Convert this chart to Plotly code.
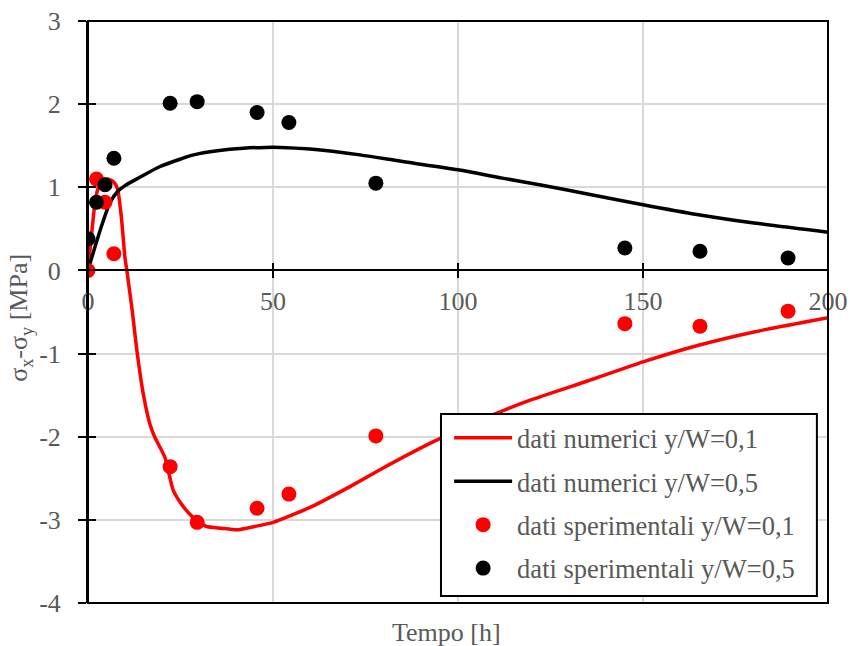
import plotly.graph_objects as go

# Numerical results (time in hours, stress difference in MPa)
t_num_01 = [0, 1, 2, 3, 4, 5, 6, 7, 8, 9, 10, 10.5, 12, 13.2, 15, 16.8, 18, 20.8,
            23, 25.4, 28.4, 32, 36, 40.2, 45, 50, 60, 70.8, 80, 92.4, 105, 119.5,
            135, 150, 165, 180, 200]
s_num_01 = [0, 0.45, 0.85, 1.02, 1.08, 1.10, 1.09, 1.06, 0.98, 0.65, 0.15, 0.0,
            -0.5, -0.96, -1.5, -1.86, -2.0, -2.25, -2.64, -2.82, -2.97, -3.08,
            -3.1, -3.12, -3.08, -3.03, -2.85, -2.6, -2.37, -2.08, -1.82, -1.56,
            -1.33, -1.1, -0.9, -0.74, -0.57]

t_num_05 = [0, 2, 4, 6, 8, 10, 14, 19.5, 25, 28.5, 35, 42, 48, 52, 60, 73.5, 85,
            100, 112, 122, 135, 150, 165, 180, 200]
s_num_05 = [0, 0.3, 0.58, 0.82, 0.95, 1.02, 1.12, 1.25, 1.34, 1.39, 1.44, 1.47,
            1.48, 1.48, 1.46, 1.39, 1.31, 1.21, 1.11, 1.03, 0.92, 0.79, 0.67,
            0.57, 0.46]

# Experimental measurements
t_exp = [0, 2.3, 4.6, 7, 22.2, 29.5, 45.7, 54.3, 77.8, 145.1, 165.4, 189.2]
s_exp_01 = [0, 1.10, 0.82, 0.20, -2.36, -3.03, -2.86, -2.69, -1.99, -0.64, -0.67, -0.49]
s_exp_05 = [0.38, 0.82, 1.03, 1.35, 2.01, 2.03, 1.90, 1.78, 1.05, 0.27, 0.23, 0.15]

x_ticks = [0, 50, 100, 150, 200]
y_ticks = [-4, -3, -2, -1, 0, 1, 2, 3]
y_tick_text = ["-4", "-3", "-2", "-1", "0", "1", "2", "3"]

FONT = "serif"
GREY = "#595959"
GRID = "#d9d9d9"
Y_RANGE = [-4, 3]
X_RANGE = [0, 200]
x_axis_pos = (0 - Y_RANGE[0]) / (Y_RANGE[1] - Y_RANGE[0])

fig = go.Figure()

fig.add_trace(go.Scatter(x=t_num_01, y=s_num_01, mode="lines",
                         line=dict(color="#ff0000", width=3.5, shape="spline",
                                   smoothing=0.5),
                         name="dati numerici y/W=0,1", legendgroup="a"))
fig.add_trace(go.Scatter(x=t_num_05, y=s_num_05, mode="lines",
                         line=dict(color="#000000", width=3.5, shape="spline",
                                   smoothing=0.8),
                         name="dati numerici y/W=0,5", legendgroup="b"))
fig.add_trace(go.Scatter(x=t_exp, y=s_exp_01, mode="markers",
                         marker=dict(color="#ff0000", size=15),
                         name="dati sperimentali y/W=0,1", legendgroup="c"))
fig.add_trace(go.Scatter(x=t_exp, y=s_exp_05, mode="markers",
                         marker=dict(color="#000000", size=15),
                         name="dati sperimentali y/W=0,5", legendgroup="d"))

# invisible trace carrying the overlay axes (inner half of crossing ticks)
fig.add_trace(go.Scatter(x=[None], y=[None], xaxis="x2", yaxis="y2",
                         showlegend=False, hoverinfo="skip"))

# legend frame in data units
LEG_X0, LEG_X1 = 95.4, 197.0
LEG_Y0, LEG_Y1 = -3.915, -1.727

fig.update_layout(
    width=850, height=646,
    margin=dict(l=88, r=22, t=21, b=43, autoexpand=False),
    paper_bgcolor="white", plot_bgcolor="white",
    font=dict(family=FONT, size=26, color=GREY),
    showlegend=True,
    legend=dict(
        x=(LEG_X0 + 2.2) / 200, y=(LEG_Y1 + 4) / 7, xanchor="left", yanchor="top",
        bgcolor="rgba(0,0,0,0)", borderwidth=0,
        font=dict(family=FONT, size=26.5, color=GREY),
        traceorder="grouped", tracegroupgap=6, itemwidth=58,
    ),
    xaxis=dict(
        range=X_RANGE, tickvals=x_ticks, showgrid=True, gridcolor=GRID,
        gridwidth=1.5, zeroline=False, showline=True, linecolor="black",
        linewidth=2, ticks="outside", ticklen=7, tickwidth=2, tickcolor="black",
        anchor="free", position=x_axis_pos, ticklabelstandoff=0, automargin=False,
        tickfont=dict(family=FONT, size=26, color=GREY),
    ),
    yaxis=dict(
        range=Y_RANGE, tickvals=y_ticks, ticktext=y_tick_text, showgrid=True,
        gridcolor=GRID, gridwidth=1.5, zeroline=False, showline=True,
        linecolor="black", linewidth=2, ticks="outside", ticklen=8, tickwidth=2,
        tickcolor="black", ticklabelstandoff=12, automargin=False,
        tickfont=dict(family=FONT, size=26, color=GREY),
    ),
    xaxis2=dict(
        range=X_RANGE, tickvals=x_ticks, overlaying="x", anchor="free",
        position=x_axis_pos, showgrid=False, zeroline=False, showline=False,
        ticks="inside", ticklen=7, tickwidth=2, tickcolor="black",
        showticklabels=False, automargin=False,
    ),
    yaxis2=dict(
        range=Y_RANGE, tickvals=y_ticks, overlaying="y", side="left",
        showgrid=False, zeroline=False, showline=False,
        ticks="inside", ticklen=8, tickwidth=2, tickcolor="black",
        showticklabels=False, automargin=False,
    ),
    shapes=[
        dict(type="rect", xref="paper", yref="paper", x0=0, x1=1, y0=0, y1=1,
             line=dict(color="black", width=2), layer="above"),
        dict(type="rect", xref="x", yref="y", x0=LEG_X0, x1=LEG_X1,
             y0=LEG_Y0, y1=LEG_Y1, fillcolor="white",
             line=dict(color="black", width=2), layer="above"),
    ],
    annotations=[
        dict(text="Tempo [h]", xref="paper", yref="paper", x=0.485, y=-0.05,
             xanchor="center", yanchor="middle", showarrow=False,
             font=dict(family=FONT, size=26, color=GREY)),
        dict(text="σ<sub>x</sub>-σ<sub>y</sub> [MPa]", xref="paper", yref="paper",
             x=-0.092, y=0.49, xanchor="center", yanchor="middle",
             textangle=-90, showarrow=False,
             font=dict(family=FONT, size=26, color=GREY)),
    ],
)

fig.write_html("out.html")
